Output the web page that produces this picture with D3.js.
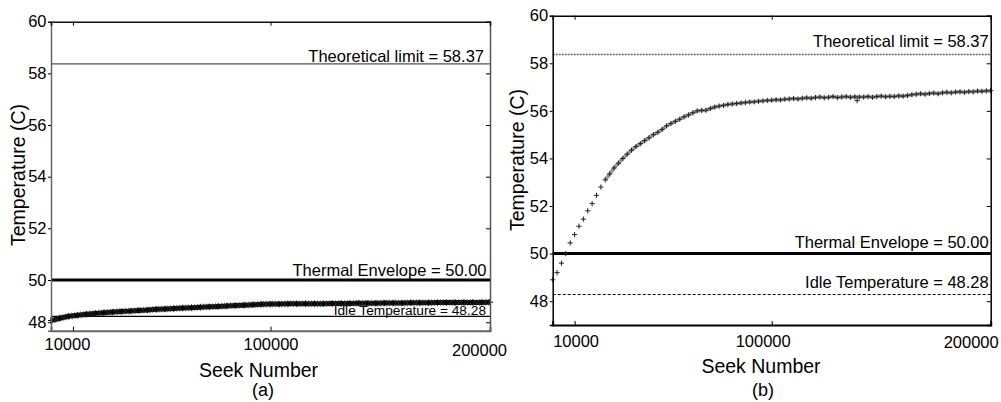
<!DOCTYPE html>
<html>
<head>
<meta charset="utf-8">
<script src="https://cdn.jsdelivr.net/npm/d3@7/dist/d3.min.js"></script>
<style>
  html, body { margin: 0; padding: 0; background: #fff; }
  svg { display: block; font-family: "Liberation Sans", Arial, sans-serif; }
</style>
</head>
<body>
<svg id="chart" width="1001" height="402"></svg>
<script>
// ---------------- DATA ----------------
const yTicks = [48, 50, 52, 54, 56, 58, 60];
const xTicks = [10000, 100000, 200000];
const xTickLabels = ["10000", "100000", "200000"];

const refLabels = ["Theoretical limit = 58.37", "Thermal Envelope = 50.00", "Idle Temperature = 48.28"];
const refValues = [58.37, 50.00, 48.28];

// Panel (a): seek number vs temperature
const seeksA = [0,4000,8000,12000,16000,20000,24000,28000,32000,36000,40000,44000,48000,52000,56000,60000,64000,68000,72000,76000,80000,84000,88000,92000,96000,100000,104000,108000,112000,116000,120000,124000,128000,132000,136000,140000,144000,148000,152000,156000,160000,164000,168000,172000,176000,180000,184000,188000,192000,196000,200000];
const tempsA = [48.08,48.19,48.28,48.33,48.38,48.42,48.45,48.48,48.51,48.53,48.56,48.58,48.61,48.63,48.65,48.67,48.69,48.71,48.73,48.75,48.77,48.79,48.81,48.83,48.85,48.86,48.86,48.87,48.87,48.88,48.88,48.88,48.89,48.89,48.89,48.90,48.90,48.90,48.91,48.91,48.91,48.92,48.92,48.92,48.93,48.93,48.93,48.94,48.94,48.94,48.95];

// Panel (b): seek number vs temperature
const seeksB = [0,2000,4000,6000,8000,10000,12000,14000,16000,18000,20000,22000,24000,26000,28000,30000,32000,34000,36000,38000,40000,42000,44000,46000,48000,50000,52000,54000,56000,58000,60000,62000,64000,66000,68000,70000,72000,74000,76000,78000,80000,82000,84000,86000,88000,90000,92000,94000,96000,98000,100000,102000,104000,106000,108000,110000,112000,114000,116000,118000,120000,122000,124000,126000,128000,130000,132000,134000,136000,138000,140000,142000,144000,146000,148000,150000,152000,154000,156000,158000,160000,162000,164000,166000,168000,170000,172000,174000,176000,178000,180000,182000,184000,186000,188000,190000,192000,194000,196000,198000,200000];
const tempsB = [48.9,49.2,49.6,50.0,50.45,50.8,51.15,51.45,51.8,52.1,52.45,52.8,53.1,53.35,53.6,53.8,54.0,54.18,54.35,54.5,54.62,54.75,54.87,55.0,55.1,55.22,55.37,55.47,55.56,55.65,55.75,55.83,55.92,56.0,56.02,56.03,56.1,56.16,56.2,56.23,56.27,56.29,56.31,56.33,56.35,56.37,56.38,56.4,56.42,56.44,56.45,56.47,56.46,56.49,56.5,56.52,56.5,56.53,56.55,56.53,56.56,56.58,56.55,56.57,56.6,56.56,56.58,56.6,56.57,56.59,56.58,56.58,56.6,56.57,56.6,56.62,56.59,56.61,56.6,56.63,56.62,56.65,56.68,56.7,56.72,56.7,56.73,56.75,56.72,56.76,56.78,56.76,56.79,56.8,56.78,56.81,56.8,56.83,56.82,56.84,56.85];
// isolated low readings in panel (b)
const outlierSeeksB = [139000];
const outlierTempsB = [56.43];

// ---------------- LAYOUT / STYLE ----------------
const FONT = 16.5;
const svg = d3.select("#chart");

const panels = [
  {
    id: "a", left: 51, right: 490, top: 21.7, bottom: 330.7,
    yDomain: [47.6, 50, 60], seeks: seeksA, temps: tempsA, oSeeks: [], oTemps: [],
    axisColor: "#666", frameColor: "#111",
    xLabelShift: [[-6, 0], [0, 0], [-11, 6]], xLabelBase: 350,
    yTitle: {x: 24.5, y: 175}, xTitle: {x: 258.5, y: 377}, tag: {x: 263, y: 396},
    refStyle: [
      {stroke: "#555", width: 1.2, dash: null, dx: -6, dy: -1.5, size: FONT},
      {stroke: "#000", width: 3, dash: null, dx: -3.5, dy: -4, size: FONT},
      {stroke: "#000", width: 1.2, dash: null, dx: -4, dy: -1.5, size: 13.7}
    ],
    band: true
  },
  {
    id: "b", left: 552.7, right: 990.7, top: 15.7, bottom: 325,
    yDomain: [47, 60], seeks: seeksB, temps: tempsB, oSeeks: outlierSeeksB, oTemps: outlierTempsB,
    axisColor: "#000", frameColor: "#000",
    xLabelShift: [[1, 0], [-9, 0], [-20, 1]], xLabelBase: 347,
    yTitle: {x: 524, y: 160}, xTitle: {x: 761, y: 373}, tag: {x: 763, y: 396},
    refStyle: [
      {stroke: "#666", width: 1.5, dash: "2,1", dx: -2, dy: -7, size: FONT},
      {stroke: "#000", width: 3, dash: null, dx: -2, dy: -6, size: FONT},
      {stroke: "#000", width: 1, dash: "3,2", dx: -2, dy: -6.5, size: FONT}
    ],
    band: false
  }
];

panels.forEach(p => {
  const x = d3.scaleLinear().domain([0, 200000]).range([p.left, p.right]);
  const y = d3.scaleLinear().domain(p.yDomain)
    .range(p.yDomain.length === 3 ? [p.bottom, 280, p.top] : [p.bottom, p.top]);

  const g = svg.append("g");

  // reference lines
  refValues.forEach((v, i) => {
    const s = p.refStyle[i];
    g.append("line")
      .attr("x1", p.left).attr("x2", p.right)
      .attr("y1", y(v)).attr("y2", y(v))
      .attr("stroke", s.stroke).attr("stroke-width", s.width)
      .attr("stroke-dasharray", s.dash);
    g.append("text")
      .attr("x", p.right + s.dx).attr("y", y(v) + s.dy)
      .attr("text-anchor", "end")
      .attr("font-size", s.size)
      .attr("fill", "#000")
      .text(refLabels[i]);
  });

  const data = p.seeks.map((s, i) => ({s, t: p.temps[i]}));
  const outliers = p.oSeeks.map((s, i) => ({s, t: p.oTemps[i]}));
  const line = d3.line().x(d => x(d.s)).y(d => y(d.t));

  if (p.band) {
    g.append("path").datum(data).attr("d", line)
      .attr("fill", "none").attr("stroke", "#111").attr("stroke-width", 5);
    g.append("path").datum(data).attr("d", line)
      .attr("fill", "none").attr("stroke", "#333").attr("stroke-width", 7)
      .attr("stroke-dasharray", "1,2").attr("opacity", 0.6);
  } else {
    g.append("path").datum(data.filter(d => d.s >= 24000)).attr("d", line)
      .attr("fill", "none").attr("stroke", "#999").attr("stroke-width", 3.5);
  }
  const arm = p.band ? 3 : 2.6;
  g.append("g").selectAll("path").data(data.concat(outliers)).join("path")
    .attr("d", d => `M${x(d.s) - arm},${y(d.t)}h${2 * arm}M${x(d.s)},${y(d.t) - arm}v${2 * arm}`)
    .attr("stroke", p.band ? "#000" : "#222")
    .attr("stroke-width", 1)
    .attr("fill", "none");

  // axes
  const left = g.append("g").attr("transform", `translate(${p.left},0)`)
    .call(d3.axisLeft(y).tickValues(yTicks).tickFormat(d3.format("d")).tickSize(3).tickPadding(1.5));
  const right = g.append("g").attr("transform", `translate(${p.right},0)`)
    .call(d3.axisRight(y).tickValues(yTicks).tickSize(-4).tickFormat(""));
  const top = g.append("g").attr("transform", `translate(0,${p.top})`)
    .call(d3.axisTop(x).tickValues(xTicks).tickSize(-4).tickFormat(""));
  const bottom = g.append("g").attr("transform", `translate(0,${p.bottom})`)
    .call(d3.axisBottom(x).tickValues(xTicks).tickSize(-4).tickFormat((d, i) => xTickLabels[i]));

  [left, right, top, bottom].forEach(a => {
    a.selectAll("text").attr("font-family", "Liberation Sans, Arial, sans-serif")
      .attr("font-size", FONT).attr("fill", "#000");
    a.selectAll(".tick line").attr("stroke", "#000");
  });
  left.select(".domain").attr("stroke", p.axisColor).attr("stroke-width", 1.5);
  bottom.select(".domain").attr("stroke", p.axisColor).attr("stroke-width", 2);
  top.select(".domain").attr("stroke", p.frameColor).attr("stroke-width", 1.5);
  right.select(".domain").attr("stroke", p.id === "a" ? "#555" : "#000").attr("stroke-width", 1.5);
  top.selectAll(".tick line").filter(d => d === 200000).remove();
  bottom.selectAll(".tick line").filter(d => d === 200000).remove();

  bottom.selectAll(".tick text")
    .attr("dy", null)
    .attr("y", (d, i) => p.xLabelBase - p.bottom + p.xLabelShift[i][1])
    .attr("x", (d, i) => p.xLabelShift[i][0]);

  // titles
  svg.append("text")
    .attr("transform", `translate(${p.yTitle.x},${p.yTitle.y}) rotate(-90)`)
    .attr("text-anchor", "middle").attr("font-size", 19.5).text("Temperature (C)");
  svg.append("text")
    .attr("x", p.xTitle.x).attr("y", p.xTitle.y)
    .attr("text-anchor", "middle").attr("font-size", 19.5).text("Seek Number");
  svg.append("text")
    .attr("x", p.tag.x).attr("y", p.tag.y)
    .attr("text-anchor", "middle").attr("font-size", 18).text(`(${p.id})`);
});
</script>
</body>
</html>
